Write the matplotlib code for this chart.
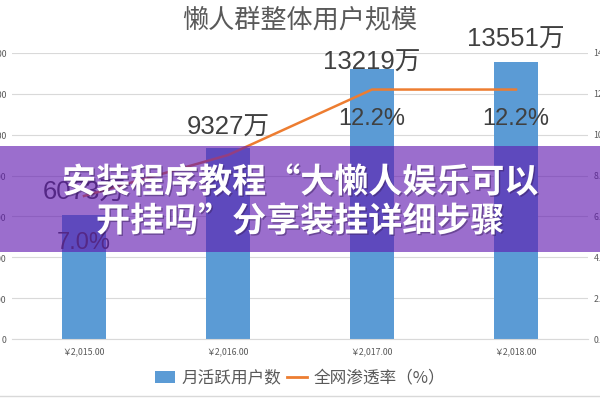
import matplotlib
matplotlib.use("Agg")
import matplotlib.pyplot as plt
from matplotlib.patches import Rectangle, Patch
from matplotlib.lines import Line2D
from matplotlib.ticker import FuncFormatter, MultipleLocator
import matplotlib.patheffects as pe

# ---- data ----
years = ["￥2,015.00", "￥2,016.00", "￥2,017.00", "￥2,018.00"]
users = [6073, 9327, 13219, 13551]          # 万
rate = [7.0, 9.0, 12.2, 12.2]               # %
user_labels = ["6073万", "9327万", "13219万", "13551万"]
rate_labels = ["7.0%", None, "12.2%", "12.2%"]
title = "懒人群整体用户规模"
legend_names = ["月活跃用户数", "全网渗透率（%）"]
banner_lines = ["安装程序教程“大懒人娱乐可以", "开挂吗”分享装挂详细步骤"]

CJK = ["Noto Sans CJK SC", "DejaVu Sans"]
NUM = ["Liberation Sans", "Noto Sans CJK SC", "DejaVu Sans"]
plt.rcParams["font.family"] = CJK

BLUE = "#5B9BD5"
ORANGE = "#ED7D31"
GRID = "#D9D9D9"
TXT = "#404040"

fig = plt.figure(figsize=(6, 4), dpi=100)
fig.patch.set_facecolor("white")
ax = fig.add_axes([12/600, 1-339.3/400, 576/600, 286.6/400])
ax2 = ax.twinx()

x = list(range(len(years)))
ax.bar(x, users, width=0.31, color=BLUE, zorder=2)
ax.set_xlim(-0.5, 3.5)
ax.set_ylim(0, 14000)
ax.yaxis.set_major_locator(MultipleLocator(2000))
ax.yaxis.set_major_formatter(FuncFormatter(lambda v, p: f"{v:,.0f}"))
ax.grid(axis="y", color=GRID, lw=0.8, zorder=0)
ax.set_axisbelow(True)
for s in ax.spines.values():
    s.set_visible(False)
for s in ax2.spines.values():
    s.set_visible(False)
ax.spines["bottom"].set_visible(True)
ax.spines["bottom"].set_color(GRID)
ax.set_xticks(x)
ax.set_xticklabels(years, fontsize=6.3, color="#595959")
ax.tick_params(axis="x", length=0, pad=6)
ax.tick_params(axis="y", length=0, pad=4, labelsize=6.3, labelcolor="#595959")

ax2.plot(x, rate, color=ORANGE, lw=1.8, zorder=3)
ax2.set_ylim(0, 14)
ax2.yaxis.set_major_locator(MultipleLocator(2))
ax2.yaxis.set_major_formatter(FuncFormatter(lambda v, p: f"{v:.1f}%"))
ax2.tick_params(axis="y", length=0, pad=4, labelsize=6.3, labelcolor="#595959")

# data labels
user_off = [22, 21, 6, 22]
for i, (v, lab) in enumerate(zip(users, user_labels)):
    ax.annotate(lab, (i, v), xytext=(0, user_off[i]*0.72), textcoords="offset points",
                ha="center", va="center", fontsize=18.5, color=TXT, family=NUM, zorder=5)
rate_off = [-47, 0, -29, -29]
for i, (v, lab) in enumerate(zip(rate, rate_labels)):
    if lab is None:
        continue
    ax2.annotate(lab, (i, v), xytext=(0, rate_off[i]*0.72), textcoords="offset points",
                 ha="center", va="center", fontsize=17, color=TXT, family=NUM, zorder=5)

fig.text(0.5, 1-20/400, title, ha="center", va="center", fontsize=18.8, color="#595959")

handles = [Patch(facecolor=BLUE, edgecolor="none"), Line2D([0], [0], color=ORANGE, lw=2)]
fig.legend(handles, legend_names, loc="center", bbox_to_anchor=(0.5, 1-378/400), ncol=2,
           frameon=False, fontsize=12, labelcolor="#595959", handlelength=1.2,
           handletextpad=0.4, columnspacing=0.3)

# bottom border
fig.add_artist(Line2D([0, 1], [1-396/400]*2, color=GRID, lw=1, transform=fig.transFigure))

# banner overlay
fig.add_artist(Rectangle((0, 1-252/400), 1, 106/400, transform=fig.transFigure,
                         facecolor=(97/255, 26/255, 176/255), alpha=0.63, edgecolor="none", zorder=10))
for yy, line in zip([182, 221], banner_lines):
    fig.text(0.5, 1-yy/400, line, ha="center", va="center", fontsize=24.5, fontweight="bold",
             color="white", zorder=11,
             path_effects=[pe.withSimplePatchShadow(offset=(1, -1), shadow_rgbFace="#3a2060", alpha=0.5)])

fig.savefig("out.png", dpi=100)
